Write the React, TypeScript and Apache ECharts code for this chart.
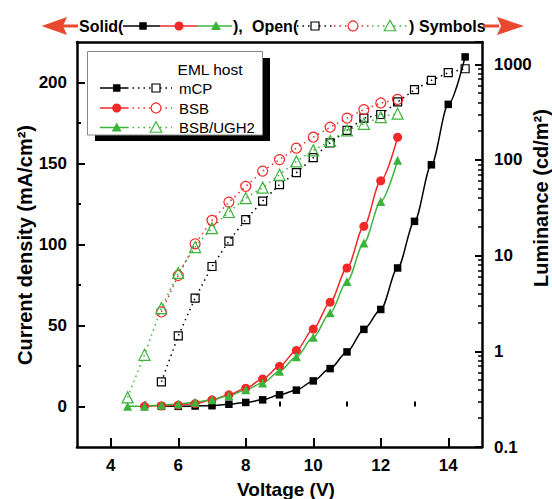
import React, { useEffect, useRef } from 'react';
import * as echarts from 'echarts';

// ---------- data ----------
const mcpV = [5.5, 6, 6.5, 7, 7.5, 8, 8.5, 9, 9.5, 10, 10.5, 11, 11.5, 12, 12.5, 13, 13.5, 14, 14.5];
const mcpJ = [0.1, 0.1, 0.3, 0.5, 1.4, 2.5, 4.1, 7.2, 10.1, 15.8, 23.4, 33.7, 47.6, 59.9, 85.5, 114.3, 149.2, 186.5, 215.8];
const mcpL = [0.48, 1.45, 3.6, 7.7, 14.2, 23.8, 37.2, 55.2, 73.6, 105.6, 151, 204, 274, 299, 404, 543, 679, 817, 899];

const bsbVJ = [5, 5.5, 6, 6.5, 7, 7.5, 8, 8.5, 9, 9.5, 10, 10.5, 11, 11.5, 12, 12.5];
const bsbJ = [0.1, 0.4, 0.9, 1.8, 4.1, 7.2, 11.3, 17, 24.8, 34.6, 47.8, 64.4, 85.5, 111.2, 139.3, 166.2];
const bsbVL = [5.5, 6, 6.5, 7, 7.5, 8, 8.5, 9, 9.5, 10, 10.5, 11, 11.5, 12, 12.5];
const bsbL = [2.58, 6.2, 13.3, 23.4, 36.3, 53, 76.5, 101, 133, 173, 220, 274, 336, 394, 430];

const ughV = [4.5, 5, 5.5, 6, 6.5, 7, 7.5, 8, 8.5, 9, 9.5, 10, 10.5, 11, 11.5, 12, 12.5];
const ughJ = [0.1, 0.2, 0.9, 1.5, 2.7, 4.1, 6.6, 10.3, 14.5, 21.7, 30.7, 42.7, 57.8, 77.1, 101, 126.6, 152];
const ughL = [0.33, 0.92, 2.83, 6.6, 12.3, 19.4, 28.6, 40, 51.4, 70, 96.6, 126, 158, 204, 239, 281, 305];

const xMajorTicks = [4, 6, 8, 10, 12, 14];
const xMinorTicks = [5, 7, 9, 11, 13];
const yMajorTicks = [0, 50, 100, 150, 200];
const yMinorTicks = [25, 75, 125, 175];
const LUM_MIN = 0.1;
const LUM_MAX = 1711;

const BLACK = '#000000';
const RED = '#f02828';
const GREEN = '#3cb43c';
const ARROW = '#e84a2f';
const FONT = '"Liberation Sans", Arial, Helvetica, sans-serif';

const tri = (cx: number, cy: number, s: number) => [
  [cx, cy - s * 0.55],
  [cx + s * 0.55, cy + s * 0.45],
  [cx - s * 0.55, cy + s * 0.45],
];

function legendRow(y: number, color: string, kind: 'sq' | 'ci' | 'tr', label: string) {
  const els: any[] = [];
  els.push({ type: 'line', z: 12, shape: { x1: 100, y1: y, x2: 127, y2: y }, style: { stroke: color, lineWidth: 1.5 } });
  els.push({ type: 'line', z: 12, shape: { x1: 127, y1: y, x2: 172, y2: y }, style: { stroke: color, lineWidth: 1.5, lineDash: [1.5, 4] } });
  if (kind === 'sq') {
    els.push({ type: 'rect', z: 13, shape: { x: 116.7 - 3.75, y: y - 3.75, width: 7.5, height: 7.5 }, style: { fill: color } });
    els.push({ type: 'rect', z: 13, shape: { x: 156 - 4, y: y - 4, width: 8, height: 8 }, style: { fill: '#fff', stroke: color, lineWidth: 1.2 } });
  } else if (kind === 'ci') {
    els.push({ type: 'circle', z: 13, shape: { cx: 116.7, cy: y, r: 4.5 }, style: { fill: color } });
    els.push({ type: 'circle', z: 13, shape: { cx: 156, cy: y, r: 5 }, style: { fill: '#fff', stroke: color, lineWidth: 1.2 } });
  } else {
    els.push({ type: 'polygon', z: 13, shape: { points: tri(116.7, y, 9) }, style: { fill: color } });
    els.push({ type: 'polygon', z: 13, shape: { points: tri(156, y, 10.5) }, style: { fill: '#fff', stroke: color, lineWidth: 1.2 } });
  }
  els.push({ type: 'text', z: 13, x: 179, y, style: { text: label, fill: '#000', font: `15px ${FONT}`, align: 'left', verticalAlign: 'middle' } });
  return els;
}

function header() {
  const y = 26;
  const els: any[] = [];
  const bold = `bold 16px ${FONT}`;
  // left arrow
  els.push({ type: 'rect', shape: { x: 62, y: y - 1.5, width: 16, height: 3 }, style: { fill: ARROW } });
  els.push({ type: 'polygon', shape: { points: [[41.5, y], [67, y - 9], [63, y], [67, y + 9]] }, style: { fill: ARROW } });
  els.push({ type: 'text', x: 79, y, style: { text: 'Solid(', fill: '#000', font: bold, align: 'left', verticalAlign: 'middle' } });
  els.push({ type: 'line', shape: { x1: 123, y1: y, x2: 160, y2: y }, style: { stroke: BLACK, lineWidth: 1.5 } });
  els.push({ type: 'line', shape: { x1: 160, y1: y, x2: 197, y2: y }, style: { stroke: RED, lineWidth: 1.5 } });
  els.push({ type: 'line', shape: { x1: 197, y1: y, x2: 232, y2: y }, style: { stroke: GREEN, lineWidth: 1.5 } });
  els.push({ type: 'rect', shape: { x: 143 - 3.75, y: y - 3.75, width: 7.5, height: 7.5 }, style: { fill: BLACK } });
  els.push({ type: 'circle', shape: { cx: 179, cy: y, r: 4.5 }, style: { fill: RED } });
  els.push({ type: 'polygon', shape: { points: tri(216, y, 9) }, style: { fill: GREEN } });
  els.push({ type: 'text', x: 233, y, style: { text: '),', fill: '#000', font: bold, align: 'left', verticalAlign: 'middle' } });
  els.push({ type: 'text', x: 252, y, style: { text: 'Open(', fill: '#000', font: bold, align: 'left', verticalAlign: 'middle' } });
  els.push({ type: 'line', shape: { x1: 297, y1: y, x2: 334, y2: y }, style: { stroke: BLACK, lineWidth: 1.5, lineDash: [1.5, 4] } });
  els.push({ type: 'line', shape: { x1: 334, y1: y, x2: 372, y2: y }, style: { stroke: RED, lineWidth: 1.5, lineDash: [1.5, 4] } });
  els.push({ type: 'line', shape: { x1: 372, y1: y, x2: 407, y2: y }, style: { stroke: GREEN, lineWidth: 1.5, lineDash: [1.5, 4] } });
  els.push({ type: 'rect', shape: { x: 315 - 4, y: y - 4, width: 8, height: 8 }, style: { fill: '#fff', stroke: BLACK, lineWidth: 1.2 } });
  els.push({ type: 'circle', shape: { cx: 353, cy: y, r: 5 }, style: { fill: '#fff', stroke: RED, lineWidth: 1.2 } });
  els.push({ type: 'polygon', shape: { points: tri(390, y, 10.5) }, style: { fill: '#fff', stroke: GREEN, lineWidth: 1.2 } });
  els.push({ type: 'text', x: 409, y, style: { text: ')', fill: '#000', font: bold, align: 'left', verticalAlign: 'middle' } });
  els.push({ type: 'text', x: 419, y, style: { text: 'Symbols', fill: '#000', font: bold, align: 'left', verticalAlign: 'middle' } });
  els.push({ type: 'rect', shape: { x: 483, y: y - 1.5, width: 16, height: 3 }, style: { fill: ARROW } });
  els.push({ type: 'polygon', shape: { points: [[524, y], [497, y - 9], [501, y], [497, y + 9]] }, style: { fill: ARROW } });
  return els;
}

const pair = (xs: number[], ys: number[]) => xs.map((x, i) => [x, ys[i]]);

function solidSeries(name: string, xs: number[], ys: number[], color: string, symbol: string, size: number) {
  return {
    type: 'line', name, xAxisIndex: 0, yAxisIndex: 0, data: pair(xs, ys),
    symbol, symbolSize: size, smooth: 0.3, smoothMonotone: 'x',
    lineStyle: { color, width: 1.5 }, itemStyle: { color }, z: 5, silent: true,
  };
}

function openSeries(name: string, xs: number[], ys: number[], color: string, symbol: string, size: number) {
  return {
    type: 'line', name, xAxisIndex: 0, yAxisIndex: 2, data: pair(xs, ys),
    symbol, symbolSize: size, smooth: false,
    lineStyle: { color, width: 1.5, type: [1.5, 4] },
    itemStyle: { color: 'rgba(255,255,255,0)', borderColor: color, borderWidth: 1.2 },
    z: 4, silent: true,
  };
}

const logMinor: number[] = [];
for (const d of [-1, 0, 1, 2, 3]) {
  for (const k of [2, 3, 4, 5, 6, 7, 8, 9]) {
    const v = d + Math.log10(k);
    if (v < Math.log10(LUM_MAX)) logMinor.push(v);
  }
}

export default function App() {
  const ref = useRef<HTMLDivElement>(null);
  useEffect(() => {
    if (!ref.current) return;
    const chart = echarts.init(ref.current, null, { renderer: 'svg' });
    const labelStyle = { color: '#000', fontSize: 17, fontWeight: 'bold' as const, fontFamily: FONT };
    const axisLine = { show: true, onZero: false, lineStyle: { color: '#000', width: 2.5 } };
    chart.setOption({
      animation: false,
      backgroundColor: '#fff',
      grid: { left: 77, right: 70, top: 42, bottom: 52, containLabel: false },
      xAxis: [
        {
          type: 'value', min: 3, max: 15, position: 'bottom',
          axisLine,
          axisTick: { show: true, inside: true, length: 9, customValues: xMajorTicks, lineStyle: { color: '#000', width: 2 } },
          axisLabel: { ...labelStyle, margin: 10, customValues: xMajorTicks },
          splitLine: { show: false },
        },
        {
          type: 'value', min: 3, max: 15, position: 'bottom',
          axisLine: { show: false },
          axisTick: { show: true, inside: true, length: 5, customValues: xMinorTicks, lineStyle: { color: '#000', width: 2 } },
          axisLabel: { show: false },
          splitLine: { show: false },
        },
        {
          type: 'value', min: 3, max: 15, position: 'top',
          axisLine, axisTick: { show: false }, axisLabel: { show: false }, splitLine: { show: false },
        },
      ],
      yAxis: [
        {
          type: 'value', min: -25, max: 225, position: 'left',
          axisLine,
          axisTick: { show: true, inside: true, length: 8, customValues: yMajorTicks, lineStyle: { color: '#000', width: 2 } },
          axisLabel: { ...labelStyle, margin: 10, customValues: yMajorTicks },
          splitLine: { show: false },
        },
        {
          type: 'value', min: -25, max: 225, position: 'left',
          axisLine: { show: false },
          axisTick: { show: true, inside: true, length: 4, customValues: yMinorTicks, lineStyle: { color: '#000', width: 2 } },
          axisLabel: { show: false }, splitLine: { show: false },
        },
        {
          type: 'log', min: LUM_MIN, max: LUM_MAX, logBase: 10, position: 'right',
          axisLine,
          axisTick: { show: true, inside: true, length: 7, lineStyle: { color: '#000', width: 2 } },
          axisLabel: {
            ...labelStyle, margin: 12,
            formatter: (v: number) => {
              const l = Math.log10(v);
              if (Math.abs(l - Math.round(l)) > 1e-6) return '';
              const r = Math.pow(10, Math.round(l));
              return r < 1 ? r.toFixed(1) : String(r);
            },
          },
          splitLine: { show: false }, minorTick: { show: false },
        },
        {
          type: 'value', min: -1, max: Math.log10(LUM_MAX), position: 'right',
          axisLine: { show: false },
          axisTick: { show: true, inside: true, length: 4, customValues: logMinor, lineStyle: { color: '#000', width: 1.5 } },
          axisLabel: { show: false }, splitLine: { show: false },
        },
      ],
      series: [
        openSeries('mCP L', mcpV, mcpL, BLACK, 'rect', 8),
        openSeries('BSB L', bsbVL, bsbL, RED, 'circle', 10),
        openSeries('BSB/UGH2 L', ughV, ughL, GREEN, 'triangle', 11),
        solidSeries('mCP J', mcpV, mcpJ, BLACK, 'rect', 7.5),
        solidSeries('BSB J', bsbVJ, bsbJ, RED, 'circle', 9),
        solidSeries('BSB/UGH2 J', ughV, ughJ, GREEN, 'triangle', 9),
      ],
      graphic: [
        ...header(),
        {
          type: 'text', x: 25, y: 245, rotation: Math.PI / 2,
          style: { text: 'Current density (mA/cm²)', fill: '#000', font: `bold 20px ${FONT}`, align: 'center', verticalAlign: 'middle' },
        },
        {
          type: 'text', x: 541, y: 198, rotation: Math.PI / 2,
          style: { text: 'Luminance (cd/m²)', fill: '#000', font: `bold 20px ${FONT}`, align: 'center', verticalAlign: 'middle' },
        },
        {
          type: 'text', x: 286, y: 489,
          style: { text: 'Voltage (V)', fill: '#000', font: `bold 19px ${FONT}`, align: 'center', verticalAlign: 'middle' },
        },
        { type: 'rect', z: 10, shape: { x: 95, y: 58, width: 175, height: 83 }, style: { fill: '#000' } },
        { type: 'rect', z: 11, shape: { x: 87.5, y: 51.5, width: 175, height: 83.5 }, style: { fill: '#fff', stroke: '#888', lineWidth: 1 } },
        { type: 'text', z: 13, x: 210, y: 69, style: { text: 'EML host', fill: '#000', font: `15.5px ${FONT}`, align: 'center', verticalAlign: 'middle' } },
        ...legendRow(88, BLACK, 'sq', 'mCP'),
        ...legendRow(108, RED, 'ci', 'BSB'),
        ...legendRow(127.5, GREEN, 'tr', 'BSB/UGH2'),
      ],
    });
    return () => chart.dispose();
  }, []);
  return <div ref={ref} style={{ position: 'fixed', left: 0, top: 0, width: 552, height: 499, background: '#fff' }} />;
}
